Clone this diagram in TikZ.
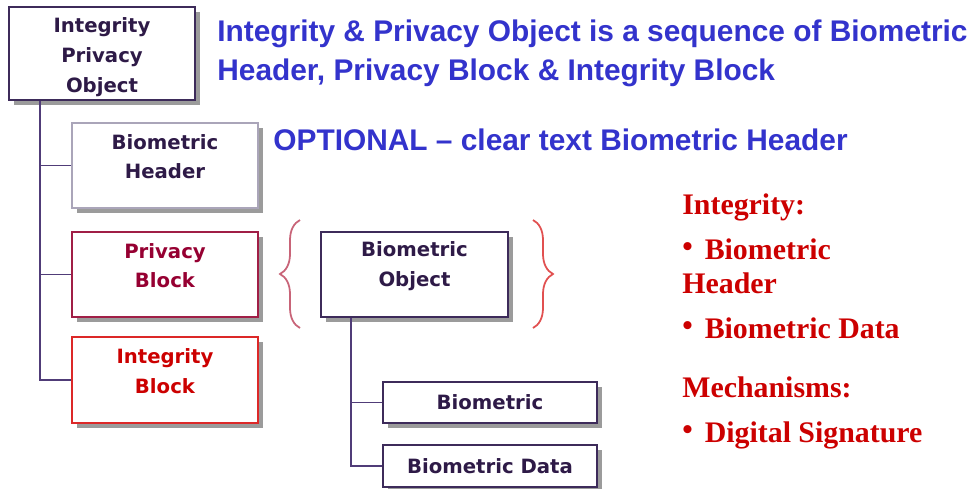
\documentclass[tikz,border=0pt]{standalone}
\usepackage{fontspec}
\setmainfont{Liberation Serif}
\newfontfamily\boxfont{DejaVu Sans}
\newfontfamily\headfont{Liberation Sans}
\usetikzlibrary{shadows,decorations.pathreplacing}

\definecolor{boxline}{RGB}{61,43,90}
\definecolor{boxtext}{RGB}{46,26,71}
\definecolor{bhline}{RGB}{170,165,185}
\definecolor{pbline}{RGB}{160,30,70}
\definecolor{pbtext}{RGB}{150,0,50}
\definecolor{ibline}{RGB}{220,40,40}
\definecolor{redtext}{RGB}{204,0,0}
\definecolor{headblue}{RGB}{51,51,204}
\definecolor{braceleft}{RGB}{200,100,120}
\definecolor{braceright}{RGB}{225,80,80}
\definecolor{treeline}{RGB}{80,60,120}
\definecolor{shadowgray}{RGB}{155,155,155}

\newcommand{\redbullet}{\raisebox{.15ex}{\textbullet}\hspace{.4em}}

\begin{document}
\begin{tikzpicture}[x=0.02cm, y=0.02cm]
		\tikzstyle{every node}+=[inner sep=0pt]
		\tikzstyle{box}=[draw=boxline, line width=1pt, fill=white, minimum width=3.72cm, minimum height=1.7cm, align=center, text=boxtext, font=\boxfont\bfseries\fontsize{11.2}{17}\selectfont, drop shadow={shadow xshift=2.8pt, shadow yshift=-2.8pt, fill=shadowgray, opacity=1}]
		\tikzstyle{boxlbl}=[align=center, yshift=5pt, text=boxtext, font=\boxfont\bfseries\fontsize{11.2}{17}\selectfont]
		\tikzstyle{headtxt}=[anchor=base west, text=headblue, font=\headfont\bfseries\fontsize{17}{22}\selectfont]
		\tikzstyle{redtxt}=[anchor=base west, text=redtext, font=\bfseries\fontsize{17}{20}\selectfont]
		\tikzstyle{curly}=[decorate, decoration={brace, amplitude=0.4cm}, line width=1pt]
		\tikzstyle{tree}=[draw=treeline, line width=1pt]
		\useasboundingbox (0,0) rectangle (977,-488);
		% left column
		\node[box, minimum height=1.86cm, label={[boxlbl, yshift=-7pt]center:Integrity\\Privacy\\Object}] (ipo) at (102,-53.5) {};
		\node[box, draw=bhline, label={[boxlbl]center:Biometric\\Header}] (bh) at (165,-165.5) {};
		\node[box, draw=pbline, label={[boxlbl, text=pbtext]center:Privacy\\Block}] (pb) at (165,-274.5) {};
		\node[box, draw=ibline, minimum height=1.72cm, label={[boxlbl, text=redtext]center:Integrity\\Block}] (ib) at (165,-380) {};
		\coordinate (t1) at (40,-100);
		\draw[tree] (t1 |- ipo.south) |- (bh.west);
		\draw[tree] (t1 |- ipo.south) |- (pb.west);
		\draw[tree] (t1 |- ipo.south) |- (ib.west);
		% biometric object
		\node[box, minimum width=3.74cm, label={[boxlbl]center:Biometric\\Object}] (bo) at (414.5,-274.5) {};
		\node[box, minimum width=4.28cm, minimum height=0.82cm] (bio) at (490,-402.5) {Biometric};
		\node[box, minimum width=4.28cm, minimum height=0.84cm] (bd) at (490,-466) {Biometric Data};
		\coordinate (t2) at (351,-317);
		\draw[tree] (t2 |- bo.south) |- (bio.west);
		\draw[tree] (t2 |- bo.south) |- (bd.west);
		\draw[curly, draw=braceleft] (300,-328) -- (300,-220);
		\draw[curly, draw=braceright] (533,-220) -- (533,-328);
		% blue text
		\node[headtxt] (head1) at (217,-41) {Integrity \& Privacy Object is a sequence of Biometric};
		\node[headtxt] (head2) at (217,-80) {Header, Privacy Block \& Integrity Block};
		\node[headtxt] (opt) at (273,-150) {OPTIONAL \textendash{} clear text Biometric Header};
		% red text
		\node[redtxt] (integ) at (682,-214) {Integrity:};
		\node[redtxt] (intega) at (682,-259) {\redbullet Biometric};
		\node[redtxt] (integb) at (682,-293) {Header};
		\node[redtxt] (integc) at (682,-338) {\redbullet Biometric Data};
		\node[redtxt] (mech) at (682,-397) {Mechanisms:};
		\node[redtxt] (mecha) at (682,-442) {\redbullet Digital Signature};
		\end{tikzpicture}
\end{document}
